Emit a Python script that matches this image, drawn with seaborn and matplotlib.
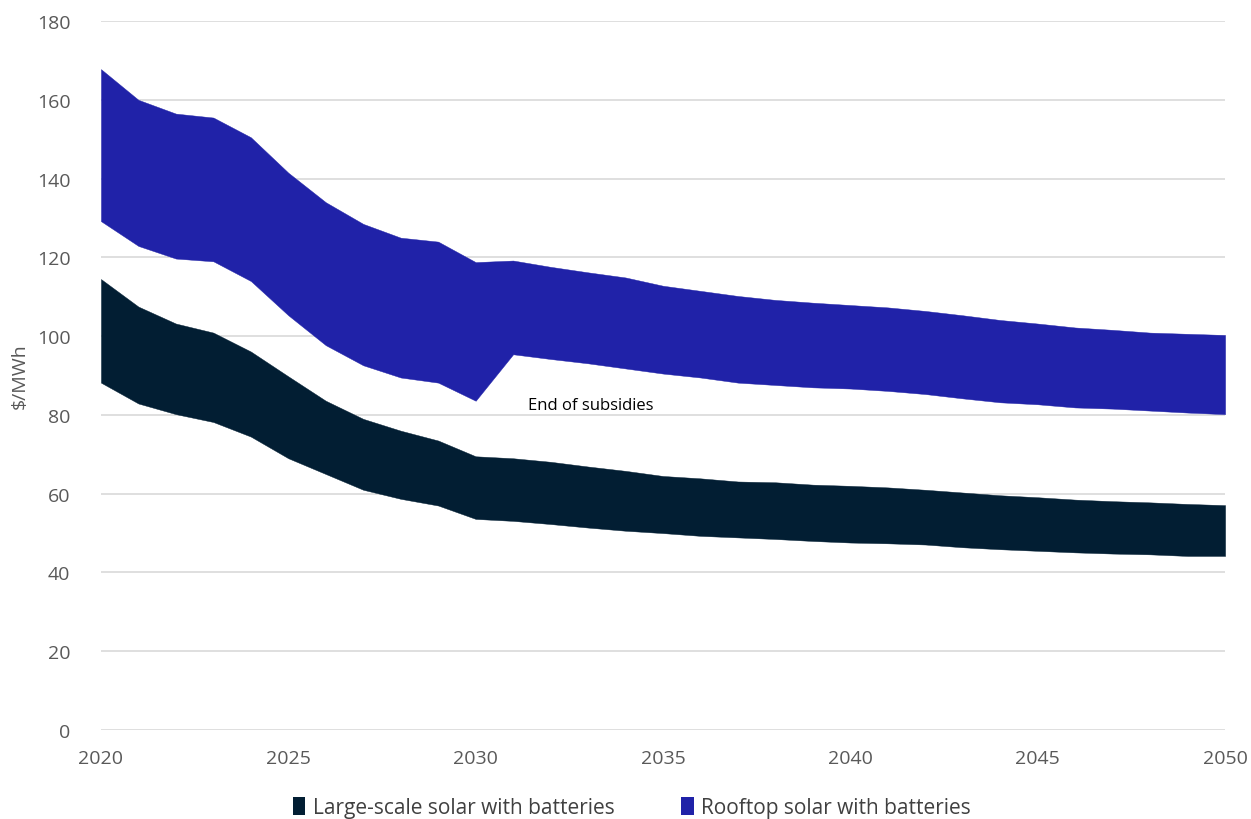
import numpy as np
import pandas as pd
import matplotlib
matplotlib.use("Agg")
import matplotlib.pyplot as plt
import seaborn as sns
from matplotlib.patches import Patch

years = list(range(2020, 2051))

rooftop_high = [167.8, 160.0, 156.5, 155.5, 150.5, 141.5, 134.0, 128.5, 125.0, 124.0,
                118.8, 119.2, 117.6, 116.2, 114.9, 112.8, 111.5, 110.2, 109.2, 108.5,
                107.9, 107.3, 106.4, 105.3, 104.1, 103.2, 102.2, 101.6, 100.9, 100.6, 100.3]
rooftop_low = [129.2, 122.9, 119.7, 119.0, 114.0, 105.3, 97.7, 92.6, 89.5, 88.2,
               83.6, 95.4, 94.2, 93.1, 91.8, 90.5, 89.5, 88.2, 87.6, 87.0,
               86.7, 86.1, 85.3, 84.2, 83.2, 82.7, 81.9, 81.6, 81.1, 80.6, 80.2]
large_high = [114.5, 107.5, 103.2, 100.9, 96.1, 89.8, 83.6, 79.0, 76.0, 73.5,
              69.5, 69.0, 68.1, 66.9, 65.8, 64.5, 63.9, 63.1, 62.9, 62.3,
              62.0, 61.6, 61.0, 60.3, 59.6, 59.1, 58.5, 58.1, 57.8, 57.4, 57.1]
large_low = [88.2, 82.9, 80.2, 78.2, 74.5, 69.0, 65.0, 61.0, 58.7, 57.0,
             53.6, 53.1, 52.3, 51.4, 50.6, 50.0, 49.3, 48.9, 48.5, 48.0,
             47.6, 47.4, 47.1, 46.4, 45.9, 45.5, 45.1, 44.8, 44.6, 44.2, 44.2]

series_names = ["Large-scale solar with batteries", "Rooftop solar with batteries"]
colors = ["#021E33", "#2022A8"]
y_ticks = list(range(0, 181, 20))
x_ticks = list(range(2020, 2051, 5))

df = pd.DataFrame({
    "year": years,
    "large_low": large_low, "large_high": large_high,
    "roof_low": rooftop_low, "roof_high": rooftop_high,
})

sns.set_theme(style="white")
plt.rcParams["font.family"] = ["Open Sans", "DejaVu Sans"]

fig = plt.figure(figsize=(12.51, 8.2), dpi=100)
ax = fig.add_axes([0.0807, 0.1085, 0.8986, 0.8646])

# Invisible line layers set up the seaborn axes; the bands are filled between bounds
for col, c in [("large_high", colors[0]), ("roof_high", colors[1])]:
    sns.lineplot(data=df, x="year", y=col, color=c, lw=0, ax=ax)
ax.fill_between(df["year"], df["large_low"], df["large_high"], color=colors[0], lw=0.3,
                edgecolor=colors[0], zorder=3)
ax.fill_between(df["year"], df["roof_low"], df["roof_high"], color=colors[1], lw=0.3,
                edgecolor=colors[1], zorder=3)

ax.set_xlim(2020, 2050)
ax.set_ylim(0, 180)
ax.set_xticks(x_ticks)
ax.set_yticks(y_ticks)
ax.yaxis.grid(True, color="#d9d9d9", lw=1.2, zorder=0)
ax.xaxis.grid(False)
for s in ax.spines.values():
    s.set_visible(False)
ax.tick_params(axis="both", length=0, labelsize=14, labelcolor="#595959")
ax.tick_params(axis="x", pad=14)
ax.tick_params(axis="y", pad=22)
ax.set_xlabel("")
ax.set_ylabel(r"\$/MWh", fontsize=14, color="#595959", labelpad=6)

ax.text(2031.4, 81.5, "End of subsidies", fontsize=12, color="#000000", zorder=5)

handles = [Patch(facecolor=c, edgecolor="none") for c in colors]
fig.legend(handles, series_names, loc="lower center", bbox_to_anchor=(0.505, -0.022),
           ncol=2, frameon=False, fontsize=15, handlelength=0.6, handleheight=1.0,
           handletextpad=0.35, columnspacing=3.2, labelcolor="#404040")

fig.savefig("out.png", dpi=100)
